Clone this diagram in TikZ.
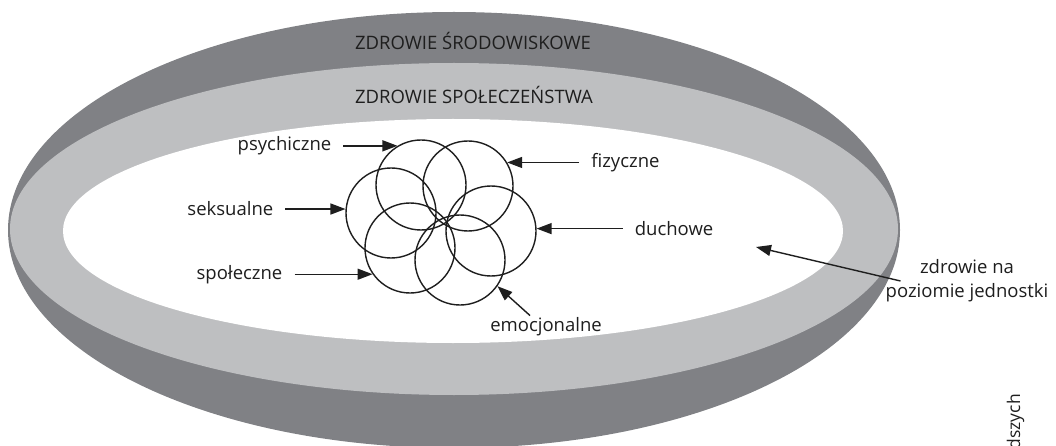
\documentclass[tikz,border=0pt]{standalone}
\usepackage{fontspec}
\setmainfont{Open Sans}
\usetikzlibrary{arrows.meta,positioning}

\definecolor{ringdark}{RGB}{128,129,133}
\definecolor{ringlight}{RGB}{190,191,193}
\definecolor{inkgray}{RGB}{30,30,30}

\begin{document}
\begin{tikzpicture}[x=1pt,y=-1pt,
    every node/.style={font=\fontsize{18.5}{24}\selectfont, text=inkgray},
    petal/.style={circle, draw=inkgray, line width=1.4pt, minimum size=90pt, inner sep=0pt},
    lbl/.style={inner xsep=12pt, inner ysep=2pt},
    pointer/.style={draw=inkgray, line width=1.4pt, -{Triangle[length=15pt,width=11pt]}}]
  \clip (0,0) rectangle (1056,446);
  %% rings: environment, society, individual
  \fill[ringdark] (454,230) ellipse [x radius=446, y radius=218];
  \fill[ringlight] (454,229) ellipse [x radius=444, y radius=166];
  \fill[white] (453,231) ellipse [x radius=390, y radius=112];
  \node (env) at (473,41) {ZDROWIE ŚRODOWISKOWE};
  \node (soc) at (474,95) {ZDROWIE SPOŁECZEŃSTWA};

  %% six overlapping petals
  \node[petal] (c1) at (421,185) {};
  \node[petal] (c2) at (468,186) {};
  \node[petal] (c3) at (391,213) {};
  \node[petal] (c4) at (491,231) {};
  \node[petal] (c5) at (410,248) {};
  \node[petal] (c6) at (460,260) {};

  \node[lbl, left=54pt of c1.121] (psy) {psychiczne};
  \node[lbl, right=72pt of c2.31] (fiz) {fizyczne};
  \node[lbl, left=60pt of c3.175] (sek) {seksualne};
  \node[lbl, right=86pt of c4.3] (duc) {duchowe};
  \node[lbl, left=78pt of c5.215] (spo) {społeczne};
  \node[lbl] (emo) at (546,327) {emocjonalne};
  \draw[pointer] (psy) -- (c1.121);
  \draw[pointer] (fiz) -- (c2.31);
  \draw[pointer] (sek) -- (c3.175);
  \draw[pointer] (duc) -- (c4.3);
  \draw[pointer] (spo) -- (c5.215);
  \draw[pointer] ([xshift=-16pt]emo.north) -- (c6.-35);

  %% individual level
  \node[align=center, inner sep=0pt] (jed) at (967,281) {zdrowie na\\poziomie jednostki};
  \coordinate (indiv) at (756,247);
  \draw[pointer] ([xshift=15pt]jed.west) -- (indiv);

  \node[rotate=90, anchor=base east, inner sep=0pt, font=\fontsize{17.5}{18}\selectfont] (src) at (1020,394) {dszych};
\end{tikzpicture}
\end{document}
